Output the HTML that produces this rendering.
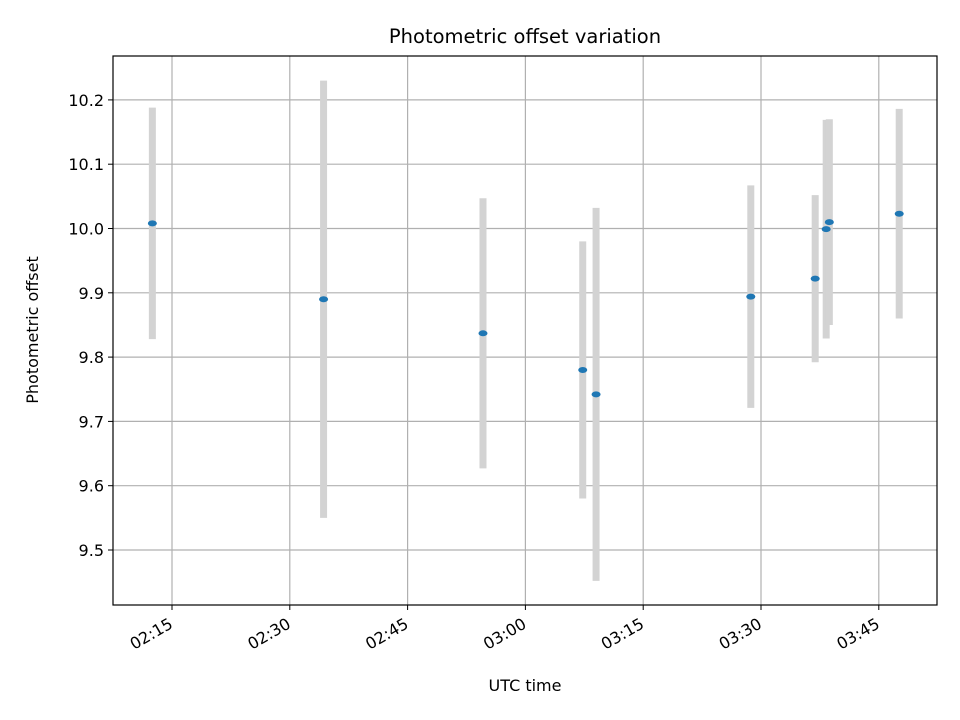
<!DOCTYPE html>
<html><head><meta charset="utf-8"><style>body{margin:0;background:#fff}svg{display:block;font-family:"DejaVu Sans","Liberation Sans",sans-serif}</style></head>
<body>
<svg id="chart" width="960" height="720"></svg>
<script>
const times=["02:12.5","02:34.3","02:54.6","03:07.3","03:09.0","03:28.7","03:36.9","03:38.3","03:38.7","03:47.6"];
const offsets=[10.008,9.89,9.837,9.78,9.742,9.894,9.922,9.999,10.01,10.023];
const errors=[0.18,0.34,0.21,0.2,0.29,0.173,0.13,0.17,0.16,0.163];
const xTickLabels=["02:15","02:30","02:45","03:00","03:15","03:30","03:45"];
const yTickLabels=["9.5","9.6","9.7","9.8","9.9","10.0","10.1","10.2"];
const NS="http://www.w3.org/2000/svg";
const svg=document.getElementById('chart');
const L=113,R=937,T=56,B=605;
function toMin(s){const [h,m]=s.split(':');return (+h)*60+parseFloat(m);}
const xs=v=>172+(v-toMin("02:15"))*(117.8/15);
const ys=v=>550-(v-9.5)*643;
function el(tag,a,txt){const e=document.createElementNS(NS,tag);for(const k in a)e.setAttribute(k,a[k]);if(txt!==undefined)e.textContent=txt;svg.appendChild(e);return e;}
xTickLabels.forEach(t=>{const x=xs(toMin(t));
const g=el('line',{x1:x,x2:x,y1:T,y2:B,stroke:'#b0b0b0','stroke-width':1.2});


el('line',{x1:x,x2:x,y1:B,y2:B+5,stroke:'#000'});
const lb=el('text',{x:0,y:0,'font-size':16,'text-anchor':'end',transform:`translate(${x+2} ${B+22}) rotate(-30)`},t);

});
yTickLabels.forEach(t=>{const y=ys(parseFloat(t));
const g=el('line',{x1:L,x2:R,y1:y,y2:y,stroke:'#b0b0b0','stroke-width':1.2});


el('line',{x1:L-5,x2:L,y1:y,y2:y,stroke:'#000'});
const lb=el('text',{x:L-9,y:y+6,'font-size':16,'text-anchor':'end'},t);

});
times.forEach((t,i)=>{const x=xs(toMin(t));
const b=el('line',{x1:x,x2:x,y1:ys(offsets[i]+errors[i]),y2:ys(offsets[i]-errors[i]),stroke:'#d3d3d3','stroke-width':7});

});
times.forEach((t,i)=>{const x=xs(toMin(t));
const p=el('ellipse',{cx:x,cy:ys(offsets[i]),rx:4.5,ry:3,fill:'#1f77b4'});

});
const f=el('rect',{x:L,y:T,width:R-L,height:B-T,fill:'none',stroke:'#000','stroke-width':1.2});


const ti=el('text',{x:525,y:43,'font-size':19.5,'text-anchor':'middle'},'Photometric offset variation');


const xt=el('text',{x:525,y:691,'font-size':16,'text-anchor':'middle'},'UTC time');


const yt=el('text',{x:38,y:330,'font-size':16,'text-anchor':'middle',transform:'rotate(-90 38 330)'},'Photometric offset');


</script>
</body></html>
